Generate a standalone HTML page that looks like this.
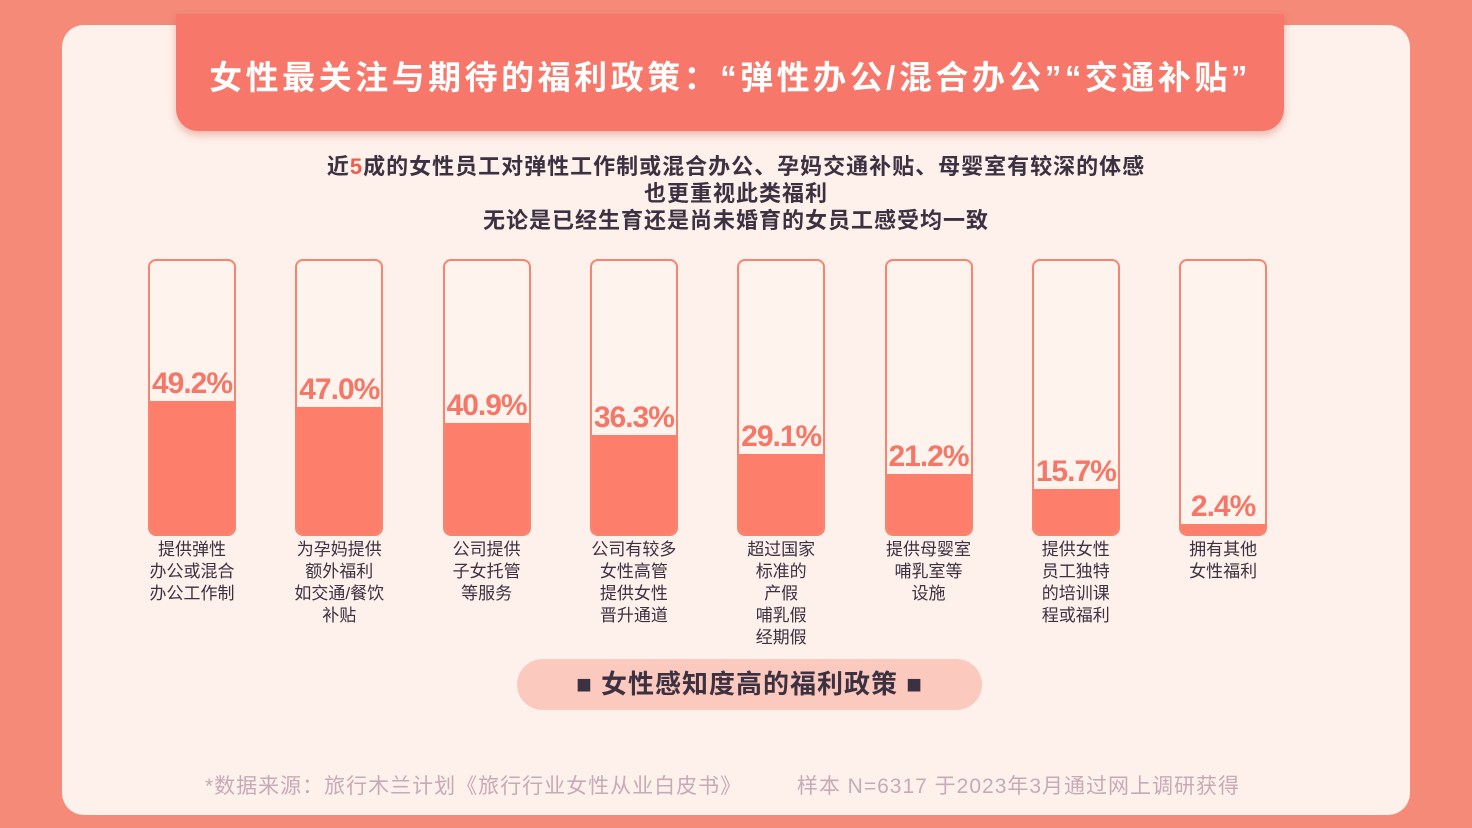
<!DOCTYPE html>
<html><head><meta charset="utf-8">
<style>
body{margin:0;width:1472px;height:828px;overflow:hidden;background:#f58a79;font-family:"Liberation Sans","Noto Sans CJK SC",sans-serif;position:relative}
.abs{position:absolute}
#card{left:62px;top:25px;width:1348px;height:790px;background:#fef0eb;border-radius:22px}
#banner{left:176px;top:14px;width:1108px;height:117px;background:#f7786a;border-radius:0 0 22px 22px;box-shadow:0 4px 8px rgba(200,80,60,.35)}
#title{left:176px;top:51px;width:1108px;text-align:center;color:#fff;font-size:33px;font-weight:bold;letter-spacing:3.5px;white-space:nowrap}
#sub{left:62px;top:153px;width:1348px;text-align:center;color:#3b3140;font-size:22px;font-weight:bold;line-height:27px;letter-spacing:1px}
.box{border:2px solid #f7846f;border-radius:8px;overflow:hidden;box-sizing:border-box;background:#fff3ee}
.fill{position:absolute;left:0;right:0;bottom:0;background:#fd7f6b}
.val{position:absolute;left:0;right:0;text-align:center;color:#f57767;font-size:30px;font-weight:bold;letter-spacing:-1px}
.lab{text-align:center;color:#3b3140;font-size:17px;line-height:22px;width:120px}
#pill{left:517px;top:659px;width:465px;height:51px;border-radius:26px;background:#fcc9bf;text-align:center;line-height:51px;font-size:26px;font-weight:bold;color:#3b3140;letter-spacing:1px}
#src{left:205px;top:770px;color:#c7aab8;font-size:21px;letter-spacing:1px;white-space:nowrap}
</style></head><body>
<div id="card" class="abs"></div>
<div id="banner" class="abs"></div>
<div id="title" class="abs">女性最关注与期待的福利政策：“弹性办公/混合办公”“交通补贴”</div>
<div id="sub" class="abs">近<span style="color:#f25c4c">5</span>成的女性员工对弹性工作制或混合办公、孕妈交通补贴、母婴室有较深的体感<br>也更重视此类福利<br>无论是已经生育还是尚未婚育的女员工感受均一致</div>
<div id="chart"></div>
<div id="pill" class="abs">■ 女性感知度高的福利政策 ■</div>
<div id="src" class="abs">*数据来源：旅行木兰计划《旅行行业女性从业白皮书》&nbsp;&nbsp;&nbsp;&nbsp;&nbsp;&nbsp;&nbsp;&nbsp;样本 N=6317 于2023年3月通过网上调研获得</div>
<script>
const categories=["提供弹性<br>办公或混合<br>办公工作制","为孕妈提供<br>额外福利<br>如交通/餐饮<br>补贴","公司提供<br>子女托管<br>等服务","公司有较多<br>女性高管<br>提供女性<br>晋升通道","超过国家<br>标准的<br>产假<br>哺乳假<br>经期假","提供母婴室<br>哺乳室等<br>设施","提供女性<br>员工独特<br>的培训课<br>程或福利","拥有其他<br>女性福利"];
const values=[49.2,47.0,40.9,36.3,29.1,21.2,15.7,2.4];
const chart=document.getElementById('chart');
const x0=148,step=147.3,top0=259,h=277,w=88;
function yScale(v){return 4+v*2.62;}
values.forEach((v,i)=>{
  const x=x0+i*step;
  const b=document.createElement('div');
  b.className='abs box';
  b.style.cssText=`left:${x}px;top:${top0}px;width:${w}px;height:${h}px`;
  
  
  const fh=yScale(v);
  const f=document.createElement('div');f.className='fill';f.style.height=fh+'px';
  
  
  b.appendChild(f);
  const t=document.createElement('div');t.className='val';t.textContent=v.toFixed(1)+'%';
  t.style.top=(h-4-fh-34)+'px';
  
  
  b.appendChild(t);
  chart.appendChild(b);
  const l=document.createElement('div');l.className='abs lab';l.innerHTML=categories[i];
  l.style.left=(x+w/2-60)+'px';l.style.top='539px';
  
  
  chart.appendChild(l);
});
</script>
</body></html>
